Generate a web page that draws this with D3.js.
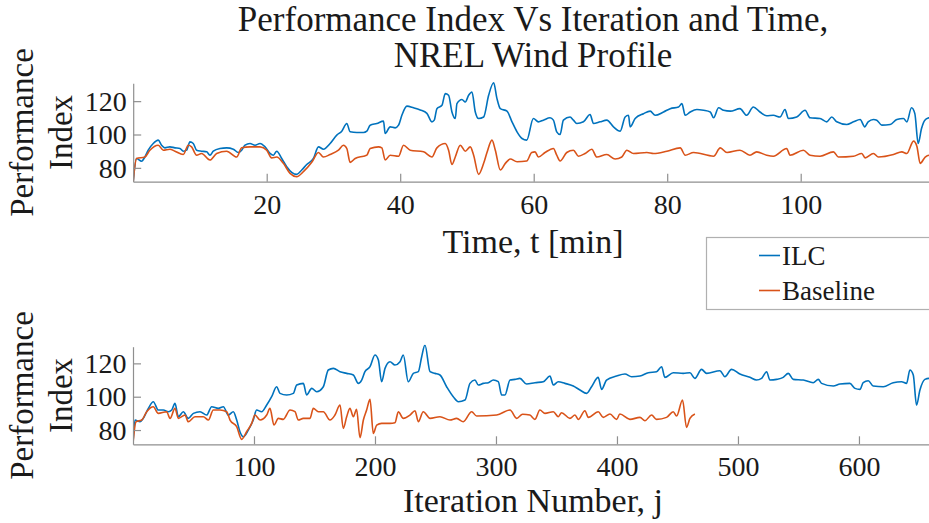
<!DOCTYPE html>
<html>
<head>
<meta charset="utf-8">
<script src="https://cdn.jsdelivr.net/npm/d3@7"></script>
<style>
  html, body { margin: 0; padding: 0; background: #fff; overflow: hidden; }
  svg { display: block; }
  svg text { font-family: "Liberation Serif", "Times New Roman", serif !important; fill: #1a1a1a; }
</style>
</head>
<body>
<svg id="chart" width="929" height="523"></svg>
<script>
// ---------- DATA ----------
const titleLines = ["Performance Index Vs Iteration and Time,", "NREL Wind Profile"];
const seriesNames = ["ILC", "Baseline"];
const timeTicks = [20, 40, 60, 80, 100];
const iterTicks = [100, 200, 300, 400, 500, 600];
const yTicks = [80, 100, 120];

// Top panel: performance index vs time [min]
const ilcTimeT = [0,0.5,1.25,1.75,2.25,3,3.75,4.25,4.75,5.5,6.25,7,7.5,8,8.5,9,9.5,10.25,11,11.5,12,13,14,15,15.75,16.25,16.75,17.5,18.25,19,19.75,20.5,21,21.5,22.25,23,23.75,24.5,25.25,26,27,27.75,28.5,29.5,30.5,31.25,32,32.5,33.5,34.5,35,35.5,36.5,37.5,37.75,38.5,39.25,39.75,40.25,41,42,43,44,44.75,45.1,45.5,46.25,46.75,47.25,47.75,48.25,48.5,49.25,49.75,50.25,50.75,51.25,51.75,52.5,53.25,54,54.5,55,56,56.75,57.5,58.25,58.95,59.95,60.7,61.45,62.45,62.95,63.45,63.95,64.45,65.45,65.95,66.45,67.45,68.45,68.95,69.95,70.95,71.95,72.95,73.7,74.2,74.45,75.2,76.45,77.45,78.2,79.45,80.45,81.7,82.2,82.7,83.45,84.45,85.45,86.45,86.95,87.7,88.45,89.45,90.9,91.9,92.9,93.9,94.9,95.9,96.9,97.65,98.15,99.4,100.65,101.4,102.9,103.9,104.65,105.4,106.9,107.9,108.9,109.6,110.1,110.9,111.4,112.15,113.4,114.4,115.4,115.9,116.6,117.1,117.6,118.1,118.6,119.2,119.85];
const ilcTimeV = [72,85.6,84,86.5,90.6,94.6,96.6,93.6,92,92.6,92,91.6,90,90.6,95.6,94.6,90.6,90,89.6,87.6,90,91.6,92,91.2,89.2,90.6,93.6,94.6,93.6,94.6,92.6,88.7,87.6,90,85.6,80.7,77.3,76.1,78.7,82,85.6,92.6,91.2,94.6,99.6,102,106.6,101.6,101.2,101.2,102,105.6,106.6,108,100.6,104.6,104,105.6,111.5,117,116,114.7,112.7,107.6,108.6,115.5,117.5,124.5,123.5,113.5,109.6,118.5,121,119.5,123.5,125.5,113.5,109.6,110.5,123.5,131,121.5,115.5,114,107.6,101.6,97.6,96.6,109.6,107.6,108.6,110,108.6,101.6,100,108.6,110.5,108.6,106.6,107.6,112,106.6,107.6,108.6,104.6,102,110.5,111.5,104.6,109.6,112.5,114,111.5,113.5,115.5,116.5,118.5,111.5,113.5,115,114.5,113.5,110,116,114.5,114,115.5,111.5,116.5,113.5,111.2,111.5,110.5,115,109.6,110.5,114.5,110,109.6,107.6,110.5,107.6,106,107.6,109,104.6,107.6,109,108.6,105.6,106,109,109.6,107.6,116,112.5,94.6,103.6,108.6,110,110.5];

const baseTimeT = [0,0.5,1.75,2.5,3.75,4.5,5.5,6.25,7.5,8.25,8.75,9.5,10.25,11.5,12.5,14,15.5,16.25,17.5,19,20,20.75,21.5,22.5,23.5,24.5,25.5,26.75,27.75,28.5,29.5,30.75,31.5,32,32.5,33.25,34.5,35,35.5,36.75,37.25,37.75,38.5,39.75,40.5,41.5,43.5,44.75,45.5,46.75,47.25,47.75,48.25,49,49.75,50.5,51,51.75,52.5,53,53.75,54.25,55,55.75,56.5,57.5,58.95,59.7,60.2,60.7,61.7,62.95,63.45,63.95,64.95,65.95,66.7,67.7,68.7,69.45,70.95,72.2,73.2,73.95,74.95,76.95,77.95,79.95,81.95,82.7,83.95,86.95,87.95,88.95,90.9,92.4,93.4,94.9,95.9,97.9,98.4,100.4,101.4,102.9,104.9,105.65,107.9,109.15,109.65,110.9,111.65,113.9,115.15,115.9,116.9,117.4,117.9,118.65,119.25,119.85];
const baseTimeV = [71.7,85.6,86.5,90.6,93.6,90.6,91.2,90,88,93.6,92.6,87.6,88.6,84.7,88.6,90,86.5,92,92.6,92.6,90.6,86,86.5,82.7,76.7,74.7,77.7,83.3,89.2,86.5,88,90.6,93.6,91.6,83.3,85.6,87,87.6,91.6,92.6,92,84.7,87.6,87,93.6,90.6,89.6,86.5,92,94.6,90.6,82,86.5,93.6,90,92.6,87.6,76.1,82.7,89.2,96.6,90.6,78.7,82.7,85.3,83.7,84.1,89.2,89.6,86.5,89.2,91.6,87.6,84.1,89.2,90.6,87,88.6,91.2,86.5,88,85.3,86.5,90.6,88.6,89.2,88.6,90,92,87.6,89.2,87,92,89.2,90.6,87.6,89.6,87.6,87,91.6,87.6,90.6,87.6,87,89.6,86.5,87,88.6,86,88.6,86.5,88,89.6,88.6,96,93,82.7,86.5,87.6,87.6];

// Bottom panel: performance index vs iteration number
const ilcIterJ = [0,1.65,5.8,8.5,12.7,16.8,20.9,25.1,29.2,32,34.7,37.5,41.6,45.7,49.9,55.4,60.9,65,70.5,74.7,78.8,82.9,85.7,88.4,91.2,95.3,99.4,102.2,106.3,110.5,114.6,118.7,121.5,127,132.5,135.3,140.8,143.5,147.7,151.8,157.3,161.4,165.6,171.1,176.6,182.1,186.2,189,191.7,195.9,200,202.8,205.5,208.3,212.4,216.5,220.7,223.4,227.5,231.7,235.8,238.6,241.3,245.5,249.6,253.7,259.2,264.7,268.9,274.4,278.5,282.6,285.4,289.5,293.7,297.8,301.9,304.7,307.4,311.6,315.7,319.8,325.3,332.2,339.1,344.6,347.4,351.5,357,363.9,369.4,374.9,379,384.5,387.3,391.4,399.7,406.6,412.1,419,425.9,432.7,436.9,439.6,446.5,454.8,460.3,464.4,469.9,474.1,485.1,489.2,494.7,501.6,509.9,515.4,519.5,523.7,526.4,531.9,537.4,541.6,545.7,554,562.2,566.4,569.1,578.8,584.3,592.5,596.7,600.8,603.5,607.7,611.8,620.1,628.3,635.2,639.4,642.1,644.9,647.6,650.4,654.5,657.8,661.2];
const ilcIterV = [72,86,85,87,93,97,92,92,91,92,96,88,91,87,90,91,89,94,93,94,89,91,86,79,76,80,86,92,91,95,100,106,102,101,102,107,108,101,105,103,106,116,117,115,114,113,108,110,115,118,125,122,109,117,121,119,121,125,109,114,115,124,131,115,114,113,106,100,97,98,108,110,107,108,108.4,110,109,101,101,110,110.4,111,107.6,108.4,109,112.4,107,109,108,106.4,104,102,106,111.6,104.4,110,112.4,113.6,112,112.4,114.4,115,118,111.6,114.4,114,114.4,111,116.4,114,115.6,112,116.4,113.6,111.6,110,111,115,110,110.4,111.6,114,110.4,110,108.4,110.4,108,106.4,107.6,108,105,104.4,108.4,109.6,106.4,106,108.4,109,108,116,113,95,104,110.4,111,111];

const baseIterJ = [0,2.5,7.2,11.3,16.8,20.9,27.8,30.6,34.7,37.5,43,45.7,51.2,58.1,62.3,66.4,71.9,77.4,80.2,85.7,89.8,93.9,98.1,100.8,105,110.5,113.2,116.5,120.1,124.2,129.8,133.9,136.6,140.8,146.3,149,153.2,157.3,162.8,166.9,171.1,173.8,176.6,179.3,182.1,184.8,187.6,190.4,193.1,195.9,198.6,201.4,205.5,212.4,216.5,219.3,223.4,228.9,233.1,235.8,239.9,245.5,253.7,262,267.5,273,279.9,284,300.6,311.6,317.1,322,328,332.2,336.3,340.5,347.4,351.5,354.2,361.1,365.3,368,373.5,376.3,384.5,388.7,394.2,399.7,402.4,410.7,419,423.1,428.6,432.7,441,446.5,449.3,454.2,457.5,460.3,464.4];
const baseIterV = [72,85,86,91,94,90,91,87,93,87,89,85,88,88,86,92,92,91,86,82,74.4,79,84,89,86,89,93,83,87,86.4,92,91,86,87,87,93,91,91,86,89,95,81,88,93,88,92.4,75.4,86,92,98.4,78,83,84,84,84.4,91,87,89,91.6,85,91,87,88,86,87,85,91,88.4,89,92,87,89.5,89,86.4,92,90,91,88,90.4,87,89,86.4,91.6,87.6,91,87.6,89.6,86.4,89.6,86.4,87.6,85.6,89,86.4,87.6,91,88.4,98,81.6,87,89.6];

// ---------- LAYOUT ----------
const colors = ["#0072BD", "#D95319"];
const axisColor = "#8f8f8f";
const svg = d3.select("#chart");

const panels = [
  { left: 133.2, right: 933.2, top: 83.3, bottom: 181.7, xDomain: [0, 119.85], yDomain: [71.7, 130.7],
    xTicks: timeTicks, xLabel: "Time, t [min]", xLabelY: 253,
    series: [[ilcTimeT, ilcTimeV], [baseTimeT, baseTimeV]], id: "top" },
  { left: 133, right: 933, top: 346.7, bottom: 444.3, xDomain: [0, 661.2], yDomain: [71.45, 130],
    xTicks: iterTicks, xLabel: "Iteration Number, j", xLabelY: 512,
    series: [[ilcIterJ, ilcIterV], [baseIterJ, baseIterV]], id: "bot" }
];

panels.forEach(p => {
  const x = d3.scaleLinear().domain(p.xDomain).range([p.left, p.right]);
  const y = d3.scaleLinear().domain(p.yDomain).range([p.bottom, p.top]);

  svg.append("clipPath").attr("id", "clip-" + p.id)
    .append("rect").attr("x", p.left).attr("y", p.top - 2)
    .attr("width", p.right - p.left).attr("height", p.bottom - p.top + 2);

  const line = d3.line().x(d => x(d[0])).y(d => y(d[1])).curve(d3.curveMonotoneX);
  p.series.forEach((s, i) => {
    const pts = s[0].map((t, k) => [t, s[1][k]]);
    svg.append("path").datum(pts)
      .attr("clip-path", `url(#clip-${p.id})`)
      .attr("fill", "none").attr("stroke", colors[i])
      .attr("stroke-width", 1.6).attr("stroke-linejoin", "round")
      .attr("d", line);
  });

  const gx = svg.append("g").attr("transform", `translate(0,${p.bottom})`)
    .call(d3.axisBottom(x).tickValues(p.xTicks).tickSize(-8).tickSizeOuter(0).tickFormat(d3.format("d")));
  gx.attr("font-family", null);
  gx.select(".domain").attr("stroke", axisColor).attr("stroke-width", 1.2);
  gx.selectAll(".tick line").attr("stroke", axisColor).attr("stroke-width", 1.2);
  gx.selectAll(".tick text").attr("y", 32).attr("dy", null)
    .style("font-size", "28px").attr("fill", "#1a1a1a");

  const gy = svg.append("g").attr("transform", `translate(${p.left},0)`)
    .call(d3.axisLeft(y).tickValues(yTicks).tickSize(-8).tickSizeOuter(0).tickFormat(d3.format("d")));
  gy.attr("font-family", null);
  gy.select(".domain").attr("stroke", axisColor).attr("stroke-width", 1.2);
  gy.selectAll(".tick line").attr("stroke", axisColor).attr("stroke-width", 1.2);
  gy.selectAll(".tick text").attr("x", -6.5).attr("dy", "0.33em")
    .style("font-size", "28px").attr("fill", "#1a1a1a");

  const cx = 533;
  svg.append("text").attr("x", cx).attr("y", p.xLabelY).attr("text-anchor", "middle")
    .style("font-size", "34px").text(p.xLabel);
  const cy = (p.top + p.bottom) / 2;
  svg.append("text").attr("transform", `translate(33,${cy}) rotate(-90)`).attr("text-anchor", "middle")
    .style("font-size", "33px").text("Performance");
  svg.append("text").attr("transform", `translate(71.5,${cy}) rotate(-90)`).attr("text-anchor", "middle")
    .style("font-size", "33px").text("Index");
});

titleLines.forEach((t, i) => {
  svg.append("text").attr("x", 533).attr("y", 31 + i * 36).attr("text-anchor", "middle")
    .style("font-size", "35px").text(t);
});

const lg = svg.append("g");
lg.append("rect").attr("x", 706.5).attr("y", 237.5).attr("width", 260).attr("height", 72)
  .attr("fill", "#fff").attr("stroke", "#b0b0b0").attr("stroke-width", 1.2);
seriesNames.forEach((n, i) => {
  const ly = 255.5 + i * 35;
  lg.append("line").attr("x1", 759).attr("x2", 780).attr("y1", ly).attr("y2", ly)
    .attr("stroke", colors[i]).attr("stroke-width", 1.6);
  lg.append("text").attr("x", 782).attr("y", ly).attr("dy", "0.34em")
    .style("font-size", "27px").text(n);
});
</script>
</body>
</html>
